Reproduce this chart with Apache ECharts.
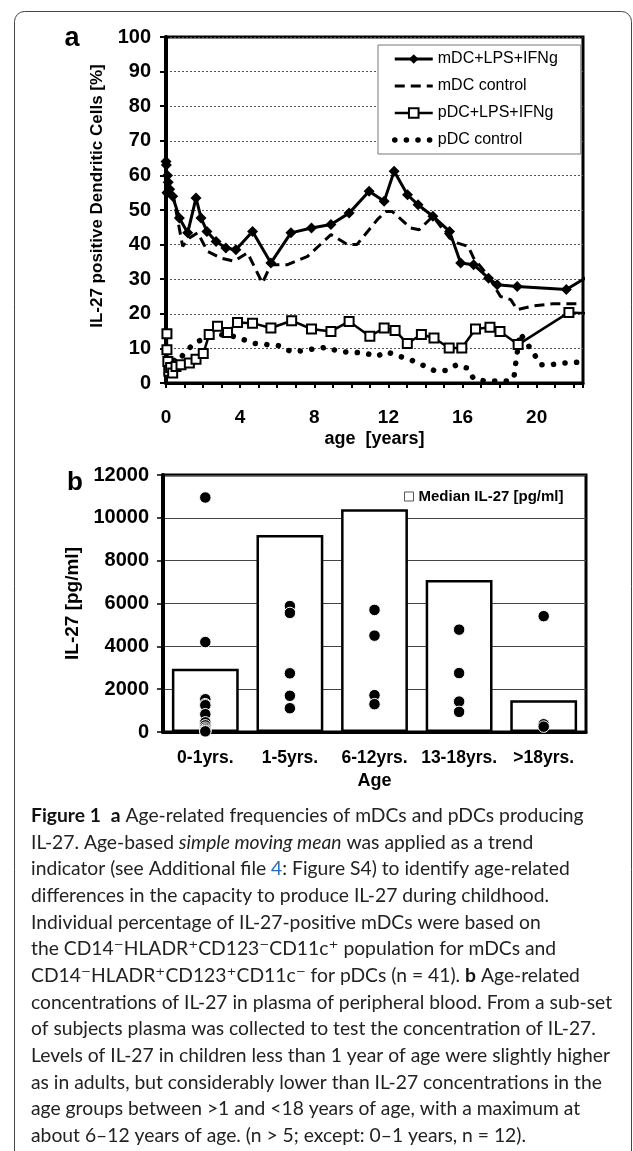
<!DOCTYPE html>
<html><head><meta charset="utf-8">
<script src="https://cdn.jsdelivr.net/npm/echarts@6/dist/echarts.min.js"></script>
<style>html,body{margin:0;padding:0;background:#fff}#c{width:633px;height:1151px}</style>
</head><body><div id="c"></div>
<script>
// ---------- Panel a data (age in years, % IL-27 positive) ----------
const mdcLpsAge = [0, 0.02, 0.05, 0.08, 0.12, 0.2, 0.36, 0.72, 1.17, 1.62, 1.89, 2.21, 2.7, 3.23, 3.77, 4.67, 5.66, 6.74, 7.85, 8.9, 9.88, 10.96, 11.77, 12.31, 13.03, 13.6, 14.4, 15.3, 15.9, 16.6, 17.4, 17.87, 18.95, 21.6, 23];
const mdcLpsVal = [64, 63, 55, 60, 58, 56, 54, 47.7, 43.4, 53.5, 47.7, 43.8, 40.9, 39, 38.5, 43.8, 34.7, 43.4, 44.8, 45.8, 49.1, 55.4, 52.5, 61.2, 54.4, 51.5, 48.2, 43.8, 34.7, 34.2, 30.3, 28.4, 27.9, 27, 31.5];
const mdcCtrlAge = [0, 0.1, 0.36, 0.9, 1.26, 1.71, 2.25, 2.96, 3.68, 4.4, 5.2, 5.66, 6.56, 7.64, 8.9, 9.8, 10.3, 11.4, 11.86, 12.2, 13.2, 13.66, 14.4, 15.3, 15.7, 16.3, 16.6, 17.4, 18.05, 18.6, 18.95, 19.85, 20.9, 22.3];
const mdcCtrlVal = [59, 58, 55, 39.5, 41.9, 43.4, 38, 36.1, 35.2, 37.6, 28.9, 34.2, 34.2, 36.6, 42.9, 40, 40, 47.2, 49.6, 49.6, 44.8, 44.3, 48.2, 41.9, 40.5, 39.5, 36.1, 30.8, 25, 24.1, 21.2, 22.3, 22.9, 22.9];
const pdcLpsAge = [0.05, 0.05, 0.1, 0.15, 0.25, 0.36, 0.54, 0.81, 1.26, 1.62, 2.01, 2.33, 2.78, 3.32, 3.86, 4.67, 5.66, 6.78, 7.85, 8.9, 9.88, 11.0, 11.77, 12.36, 13.02, 13.78, 14.46, 15.28, 15.96, 16.7, 17.48, 18.02, 19.0, 21.74, 23];
const pdcLpsVal = [14.2, 9.6, 6.2, 3.4, 4.5, 2.9, 4.8, 5.3, 5.8, 6.9, 8.5, 14, 16.4, 14.6, 17.5, 17.3, 15.9, 18, 15.6, 14.9, 17.8, 13.5, 15.9, 15.2, 11.4, 14, 13, 10.1, 10.1, 15.6, 16.1, 14.9, 11.1, 20.4, 20.1];
const pdcCtrlAge = [0.05, 0.3, 0.6, 1.1, 1.6, 2.2, 2.87, 3.5, 4.19, 4.8, 5.43, 6.07, 6.74, 7.36, 8.03, 8.65, 9.34, 10.0, 10.7, 11.37, 11.9, 12.6, 13.2, 13.8, 14.47, 15.1, 15.7, 16.26, 16.6, 17.2, 17.9, 18.5, 18.77, 18.86, 19.1, 19.86, 20.2, 20.8, 21.5, 22.2];
const pdcCtrlVal = [9, 7, 6, 9.3, 11.8, 13, 14, 13.7, 12.5, 11.4, 11.1, 10.8, 9.1, 9.3, 9.9, 10.3, 9.1, 8.9, 8.7, 7.7, 9, 7.7, 6.7, 5.3, 3.6, 3.6, 5.3, 4.3, 1.2, 0.6, 0.6, 0.6, 1.4, 5.3, 14.4, 8.4, 5.3, 5.3, 5.8, 6];
const seriesNamesA = ['mDC+LPS+IFNg', 'mDC control', 'pDC+LPS+IFNg', 'pDC control'];

// ---------- Panel b data (IL-27 pg/ml) ----------
const groups = ['0-1yrs.', '1-5yrs.', '6-12yrs.', '13-18yrs.', '>18yrs.'];
const medianIL27 = [2950, 9200, 10400, 7100, 1480];
const indiv0 = [10950, 4200, 1530, 1300, 1250, 830, 450, 310, 200, 120, 60, 30];
const indiv1 = [5880, 5560, 2740, 1690, 1110];
const indiv2 = [5700, 4500, 1720, 1300];
const indiv3 = [4780, 2750, 1420, 940];
const indiv4 = [5410, 360, 250];
const medianName = 'Median IL-27 [pg/ml]';

// ---------- Caption ----------
const captionLines = [
  '{b|Figure 1}  {b|a} Age-related frequencies of mDCs and pDCs producing',
  'IL-27. Age-based {i|simple moving mean} was applied as a trend',
  'indicator (see Additional file {u|4}: Figure S4) to identify age-related',
  'differences in the capacity to produce IL-27 during childhood.',
  'Individual percentage of IL-27-positive mDCs were based on',
  'the CD14{s|\u207B}HLADR{s|\u207A}CD123{s|\u207B}CD11c{s|\u207A} population for mDCs and',
  'CD14{s|\u207B}HLADR{s|\u207A}CD123{s|\u207A}CD11c{s|\u207B} for pDCs (n = 41). {b|b} Age-related',
  'concentrations of IL-27 in plasma of peripheral blood. From a sub-set',
  'of subjects plasma was collected to test the concentration of IL-27.',
  'Levels of IL-27 in children less than 1 year of age were slightly higher',
  'as in adults, but considerably lower than IL-27 concentrations in the',
  'age groups between >1 and <18 years of age, with a maximum at',
  'about 6\u201312 years of age. (n > 5; except: 0\u20131 years, n = 12).'
];

const FONT = "'Liberation Sans', Arial, sans-serif";
const CAPFONT = "Lato, 'Noto Sans', sans-serif";
const CAPSIZE = 19.3;
const pair = (xs, ys) => xs.map((x, i) => [x, ys[i]]);
const indiv = [indiv0, indiv1, indiv2, indiv3, indiv4];
const scatterData = [];
indiv.forEach((arr, i) => arr.forEach(v => scatterData.push([groups[i], v])));

function hasFont(f) {
  const c = document.createElement('canvas').getContext('2d');
  const s = 'Median IL-27 [pg/ml]';
  c.font = "bold 18px monospace"; const a = c.measureText(s).width;
  c.font = "bold 18px '" + f + "', monospace"; const b = c.measureText(s).width;
  return Math.abs(a - b) > 0.5;
}
const narrow = hasFont('Liberation Sans Narrow');
const legBFont = narrow ? { fontFamily: "'Liberation Sans Narrow'", fontSize: 18 } : { fontFamily: FONT, fontSize: 15 };

const chart = echarts.init(document.getElementById('c'), null, { renderer: 'canvas' });

const capGraphics = captionLines.map((t, i) => ({
  type: 'text', x: 31, y: 815.7 + i * 26.67,
  style: {
    text: t, fill: '#222', font: CAPSIZE + 'px ' + CAPFONT, textVerticalAlign: 'middle',
    rich: {
      b: { fontWeight: 'bold', fontFamily: CAPFONT, fontSize: CAPSIZE, fill: '#111' },
      i: { fontStyle: 'italic', fontFamily: CAPFONT, fontSize: CAPSIZE, fill: '#222' },
      u: { fontFamily: CAPFONT, fontSize: CAPSIZE, fill: '#2a6ebb' },
      s: { fontFamily: "'DejaVu Sans'", fontSize: 19, fill: '#222' }
    }
  }
}));

const option = {
  animation: false,
  textStyle: { fontFamily: FONT },
  grid: [
    { left: 166, top: 37, width: 417, height: 346, show: true, borderColor: '#000', borderWidth: 3, containLabel: false },
    { left: 163, top: 475, width: 423, height: 257, show: true, borderColor: '#000', borderWidth: 3, containLabel: false }
  ],
  legend: [
    {
      data: seriesNamesA, orient: 'vertical', left: 378, top: 45,
      padding: [6, 23, 6, 14], itemGap: 11, itemWidth: 38, itemHeight: 12,
      backgroundColor: '#fff', borderColor: '#777', borderWidth: 1, borderRadius: 0,
      lineStyle: { width: 'inherit' },
      textStyle: { fontSize: 16, color: '#000', fontFamily: FONT }
    },
    {
      data: [medianName], left: 404, top: 489, padding: 0, itemWidth: 9, itemHeight: 9,
      icon: 'rect', itemStyle: { borderWidth: 1, borderColor: '#555', color: '#fff' },
      textStyle: Object.assign({ fontWeight: 'bold', color: '#000' }, legBFont)
    }
  ],
  xAxis: [
    {
      gridIndex: 0, type: 'value', min: 0, max: 22.5, interval: 1, offset: 12,
      axisLine: { lineStyle: { color: '#000', width: 3 } },
      axisTick: { length: 5, lineStyle: { color: '#000', width: 2 } },
      axisLabel: { formatter: v => (v % 4 === 0 ? String(v) : ''), fontSize: 19, fontWeight: 'bold', color: '#000', margin: 13 },
      splitLine: { show: false },
      name: 'age  [years]', nameLocation: 'middle', nameGap: 35,
      nameTextStyle: { fontSize: 18, fontWeight: 'bold', color: '#000' }
    },
    {
      gridIndex: 1, type: 'category', data: groups,
      axisLine: { lineStyle: { color: '#000', width: 3 } },
      axisTick: { length: 5, lineStyle: { color: '#000', width: 1.5 } },
      axisLabel: { interval: 0, fontSize: 17.5, fontWeight: 'bold', color: '#000', margin: 17 },
      name: 'Age', nameLocation: 'middle', nameGap: 40,
      nameTextStyle: { fontSize: 18, fontWeight: 'bold', color: '#000' }
    }
  ],
  yAxis: [
    {
      gridIndex: 0, type: 'value', min: 0, max: 100, interval: 10,
      axisLine: { show: true, lineStyle: { color: '#000', width: 4 } },
      axisTick: { show: true, length: 6, lineStyle: { color: '#000', width: 2 } },
      axisLabel: { fontSize: 20, fontWeight: 'bold', color: '#000', margin: 15 },
      splitLine: { lineStyle: { color: '#555', width: 1, type: [2, 2] } }
    },
    {
      gridIndex: 1, type: 'value', min: 0, max: 12000, interval: 2000,
      axisLine: { show: true, lineStyle: { color: '#000', width: 4 } },
      axisTick: { show: true, length: 6, lineStyle: { color: '#000', width: 1.5 } },
      axisLabel: { formatter: v => String(v), fontSize: 20, fontWeight: 'bold', color: '#000', margin: 14 },
      splitLine: { lineStyle: { color: '#444', width: 1 } },
      name: 'IL-27 [pg/ml]', nameLocation: 'middle', nameGap: 67,
      nameTextStyle: { fontSize: 19, fontWeight: 'bold', color: '#000' }
    }
  ],
  series: [
    {
      name: seriesNamesA[0], type: 'line', xAxisIndex: 0, yAxisIndex: 0, data: pair(mdcLpsAge, mdcLpsVal),
      symbol: 'diamond', symbolSize: 11, itemStyle: { color: '#000' }, lineStyle: { color: '#000', width: 3 }, z: 5
    },
    {
      name: seriesNamesA[1], type: 'line', xAxisIndex: 0, yAxisIndex: 0, data: pair(mdcCtrlAge, mdcCtrlVal),
      showSymbol: false, symbol: 'none', itemStyle: { color: 'rgba(0,0,0,0)' }, lineStyle: { color: '#000', width: 3, type: [10, 6] }, z: 4
    },
    {
      name: seriesNamesA[2], type: 'line', xAxisIndex: 0, yAxisIndex: 0, data: pair(pdcLpsAge, pdcLpsVal),
      symbol: 'rect', symbolSize: 9, itemStyle: { color: '#fff', borderColor: '#000', borderWidth: 2 }, lineStyle: { color: '#000', width: 2.5 }, z: 5
    },
    {
      name: seriesNamesA[3], type: 'line', xAxisIndex: 0, yAxisIndex: 0, data: pair(pdcCtrlAge, pdcCtrlVal),
      showSymbol: false, symbol: 'none', itemStyle: { color: 'rgba(0,0,0,0)' }, lineStyle: { color: '#000', width: 5.5, type: [0.1, 11.5], cap: 'round' }, z: 4
    },
    {
      name: medianName, type: 'bar', xAxisIndex: 1, yAxisIndex: 1, data: medianIL27, barWidth: '79%',
      itemStyle: { color: '#fff', borderColor: '#000', borderWidth: 2.5 }, z: 3
    },
    {
      name: 'individual', type: 'scatter', xAxisIndex: 1, yAxisIndex: 1, data: scatterData,
      symbol: 'circle', symbolSize: 11.5, itemStyle: { color: '#000', borderColor: '#fff', borderWidth: 1, opacity: 1 }, z: 6
    }
  ],
  graphic: [
    { type: 'rect', shape: { x: 14.5, y: 11.5, width: 617, height: 1200, r: 10 }, style: { fill: 'none', stroke: '#444', lineWidth: 1 }, silent: true },
    { type: 'text', x: 72, y: 39, style: { text: 'a', font: 'bold 27px ' + FONT, fill: '#000', textAlign: 'center', textVerticalAlign: 'middle' } },
    { type: 'text', x: 75, y: 483, style: { text: 'b', font: 'bold 26px ' + FONT, fill: '#000', textAlign: 'center', textVerticalAlign: 'middle' } },
    { type: 'text', x: 97, y: 196, rotation: Math.PI / 2, style: { text: 'IL-27 positive Dendritic Cells [%]', font: 'bold 17px ' + FONT, fill: '#000', textAlign: 'center', textVerticalAlign: 'middle' } }
  ].concat(capGraphics)
};
chart.setOption(option);
</script>
</body></html>
